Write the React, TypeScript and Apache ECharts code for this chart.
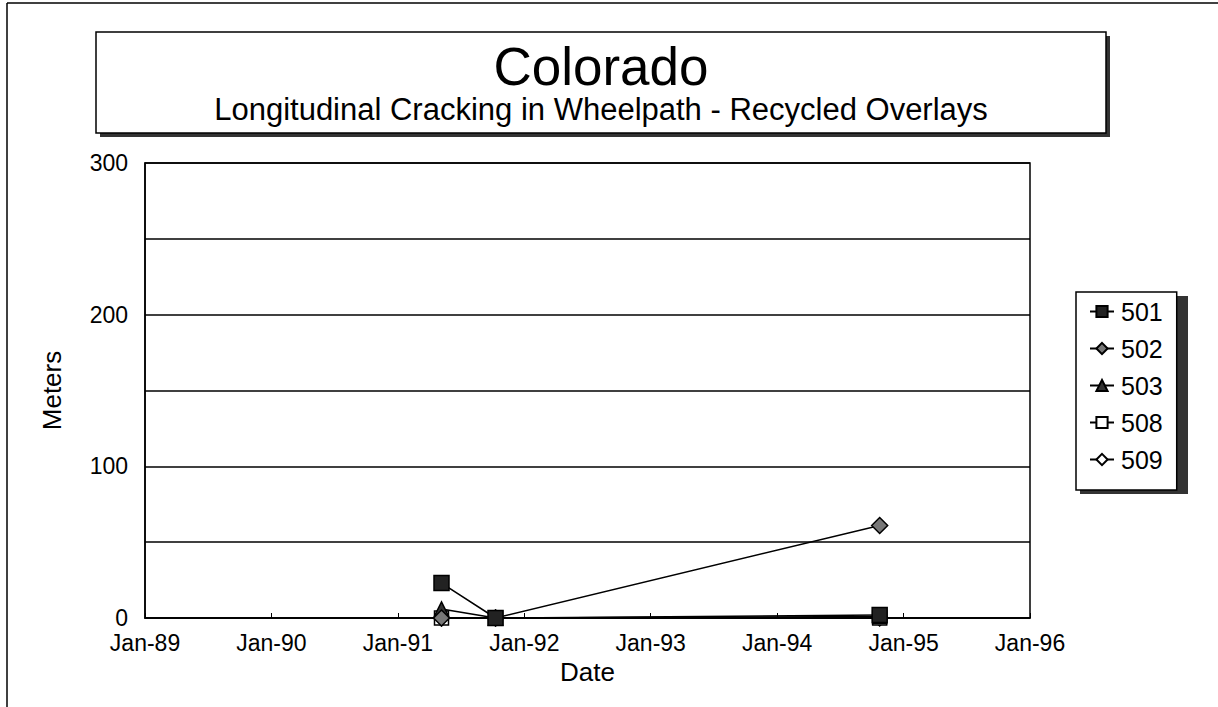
import React, { useEffect, useRef } from "react";
import * as echarts from "echarts";

const surveyDates = ["1991-05-07", "1991-10-10", "1994-10-24"];
const sectionNames = ["501", "502", "503", "508", "509"];
const s501 = [23, 0, 2];
const s502 = [0, 0, 61];
const s503 = [6, 0, 1];
const s508 = [0, 0, 0];
const s509 = [0, 0, 0];
const yearTicks = [1989, 1990, 1991, 1992, 1993, 1994, 1995, 1996];
const yTickLabels = [0, 100, 200, 300];

const seriesValues = [s501, s502, s503, s508, s509];
const symbols = ["rect", "diamond", "triangle", "rect", "diamond"];
const fills = ["#222", "#777", "#333", "#fff", "#fff"];
const sizes = [15, 16, 14, 14, 16];

function toYear(s: string): number {
  const [y, m, d] = s.split("-").map(Number);
  const start = Date.UTC(y, 0, 1);
  const end = Date.UTC(y + 1, 0, 1);
  return y + (Date.UTC(y, m - 1, d) - start) / (end - start);
}

const FONT = "'Liberation Sans', Arial, sans-serif";

export default function App() {
  const ref = useRef<HTMLDivElement>(null);
  useEffect(() => {
    if (!ref.current) return;
    const chart = echarts.init(ref.current, null, { renderer: "svg" });
    const xs = surveyDates.map(toYear);
    chart.setOption({
      animation: false,
      backgroundColor: "#fff",
      textStyle: { fontFamily: FONT, color: "#000" },
      grid: { left: 145, top: 163, right: 188, bottom: 89, containLabel: false, show: true, borderColor: "#000", borderWidth: 1.5 },
      xAxis: {
        type: "value",
        min: yearTicks[0],
        max: yearTicks[yearTicks.length - 1],
        interval: 1,
        name: "Date",
        nameLocation: "middle",
        nameGap: 39,
        nameTextStyle: { fontSize: 26, color: "#000", fontFamily: FONT },
        axisLine: { lineStyle: { color: "#000", width: 1.5 } },
        axisTick: { inside: true, length: 5, lineStyle: { color: "#000" } },
        axisLabel: {
          fontSize: 23,
          color: "#000",
          margin: 13,
          fontFamily: FONT,
          formatter: (v: number) => (yearTicks.includes(v) ? "Jan-" + String(v).slice(2) : ""),
        },
        splitLine: { show: false },
      },
      yAxis: {
        type: "value",
        min: 0,
        max: 300,
        interval: 50,
        name: "Meters",
        nameLocation: "middle",
        nameGap: 80,
        nameRotate: 90,
        nameTextStyle: { fontSize: 26, color: "#000", fontFamily: FONT },
        axisLine: { show: true, lineStyle: { color: "#000", width: 1.5 } },
        axisTick: { show: false },
        axisLabel: {
          fontSize: 23,
          color: "#000",
          margin: 17,
          fontFamily: FONT,
          formatter: (v: number) => (yTickLabels.includes(v) ? String(v) : ""),
        },
        splitLine: { show: true, lineStyle: { color: "#000", width: 1.5 } },
      },
      legend: {
        orient: "vertical",
        left: 1076,
        top: 292,
        width: 108,
        padding: [7, 14, 18, 13],
        itemGap: 12,
        itemWidth: 24,
        itemHeight: 14,
        backgroundColor: "#fff",
        borderColor: "#000",
        borderWidth: 1.5,
        z: 10,
        textStyle: { fontSize: 25, color: "#000", fontFamily: FONT, padding: [0, 0, 0, 2] },
        data: sectionNames,
      },
      graphic: [
        { type: "line", z: 1, shape: { x1: 7, y1: 3, x2: 1218, y2: 3 }, style: { stroke: "#000", lineWidth: 1.5 } },
        { type: "line", z: 1, shape: { x1: 7, y1: 3, x2: 7, y2: 707 }, style: { stroke: "#000", lineWidth: 1.5 } },
        { type: "rect", z: 1, shape: { x: 100, y: 36, width: 1010, height: 101 }, style: { fill: "#333" } },
        { type: "rect", z: 2, shape: { x: 96, y: 32, width: 1010, height: 101 }, style: { fill: "#fff", stroke: "#000", lineWidth: 1.5 } },
        {
          type: "text", z: 3, x: 601, y: 66,
          style: { text: "Colorado", fontSize: 53, fontFamily: FONT, fill: "#000", align: "center", verticalAlign: "middle" },
        },
        {
          type: "text", z: 3, x: 601, y: 109,
          style: { text: "Longitudinal Cracking in Wheelpath - Recycled Overlays", fontSize: 31, fontFamily: FONT, fill: "#000", align: "center", verticalAlign: "middle" },
        },
        { type: "rect", z: 1, shape: { x: 1080, y: 296, width: 108, height: 198 }, style: { fill: "#333" } },
      ],
      series: sectionNames.map((name, i) => ({
        name,
        type: "line",
        data: xs.map((x, j) => [x, seriesValues[i][j]]),
        symbol: symbols[i],
        symbolSize: sizes[i],
        showAllSymbol: true,
        lineStyle: { color: "#000", width: 1.5 },
        itemStyle: { color: fills[i], borderColor: "#000", borderWidth: 1.5 },
        z: 5 - i + 2,
      })),
    });
    return () => chart.dispose();
  }, []);
  return <div ref={ref} style={{ position: "fixed", left: 0, top: 0, width: 1218, height: 707 }} />;
}
